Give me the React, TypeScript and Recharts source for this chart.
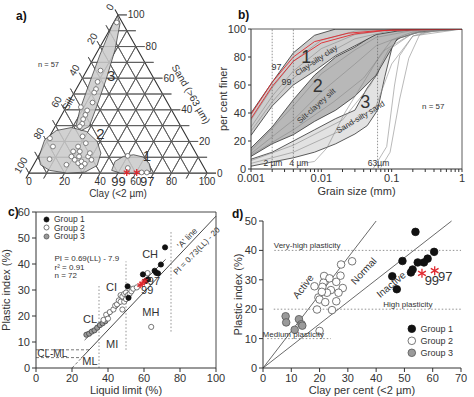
import React from 'react'
import {
  ScatterChart, Scatter, ComposedChart, Area, Line, XAxis, YAxis,
  ReferenceLine, ReferenceDot,
} from 'recharts'

const FONT = '"Liberation Sans", Arial, Helvetica, sans-serif'
const INK = '#333'
const RED = '#e0282e'

// ---------- a) ternary, points as [clay, sand] ----------
const ternGroup1 = [[50, 10.9], [53.9, 3.2], [63.1, 0.4], [66, 0.4]]
const ternStars = [[54.7, 0.4], [60.3, 0.4]]
const ternGroup2 = [
  [0.8, 22], [5.1, 16.8], [7.2, 8.8], [18.4, 5.3], [18.6, 10.5], [19.2, 16.8], [18.5, 23.2],
  [22.5, 18.9], [21.5, 8.4], [24.5, 6.3], [25.8, 7.4], [28.4, 5.9], [28, 10.5], [30.9, 8.4],
  [21.7, 13.7], [18, 13.7], [27.9, 12.6], [27.4, 4.2], [22.9, 10.5],
]
const ternGroup3 = [
  [1.7, 95.2], [7.8, 64.8], [9.7, 57.7], [11.1, 53.1], [11.2, 50.9], [13.4, 44.6],
  [8.3, 41.7], [12.9, 39.6], [13.3, 36.8], [13.4, 34.1], [14.3, 31.2], [13.8, 29.5],
]
const ternZone1 = [[45.6, 1.7], [44.6, 7.4], [47.7, 10.5], [52.9, 11.6], [59.2, 10.1], [64.7, 5.9], [67.9, 1.1], [62.6, 0], [51.3, 0]]
const ternZone2 = [[0.4, 10.5], [-1.7, 21.1], [1.9, 26.9], [9.5, 28.8], [19.2, 26.3], [28.3, 20], [34.1, 12.6], [35.9, 4.8], [31.1, 0.6], [21.3, 0], [10.8, 1.7], [3.8, 5.3]]
const ternZone3 = [[0, 99.4], [3.8, 94.7], [9.4, 77.9], [13.8, 58.9], [17, 42.1], [19.1, 29.5], [16, 26.9], [11.6, 29.5], [8.6, 40], [5.9, 54.7], [2.5, 74.7], [0, 93.7]]
const ternTicks = [0, 20, 40, 60, 80, 100]
const ternGridSteps = [0, 10, 20, 30, 40, 50, 60, 70, 80, 90, 100]

// ---------- b) grain size curves ----------
const env1X = [0.001, 0.002, 0.004, 0.008, 0.016, 0.03, 0.06, 0.12, 0.25, 1]
const env1Lo = [24, 45, 60, 70, 81, 88, 96, 98.5, 99.5, 100]
const env1Hi = [40, 62, 83, 95.5, 100, 100, 100, 100, 100, 100]
const env2X = [0.001, 0.002, 0.004, 0.008, 0.016, 0.03, 0.06, 0.12, 0.25, 1]
const env2Lo = [9, 18, 24.5, 34, 42, 52, 67, 93, 98, 100]
const env2Hi = [15, 30, 49.5, 67, 80, 87, 97, 99.5, 100, 100]
const env3X = [0.001, 0.002, 0.004, 0.008, 0.016, 0.03, 0.045, 0.063, 0.08, 0.105, 0.15, 0.25, 1]
const env3Lo = [2, 5, 8, 12, 18, 25, 31, 42, 66, 90, 96, 98.5, 100]
const env3Hi = [7, 12, 20, 28, 36, 42, 58, 68, 85, 95, 98, 99.5, 100]
const curvesGrey = [
  [[0.001, 35], [0.002, 58], [0.004, 77], [0.01, 92], [0.03, 98.5], [0.1, 100], [1, 100]],
  [[0.001, 30], [0.002, 52], [0.004, 70], [0.01, 86], [0.03, 96], [0.1, 99.5], [1, 100]],
  [[0.001, 27], [0.002, 48], [0.004, 65], [0.01, 80], [0.03, 93], [0.1, 99], [1, 100]],
  [[0.001, 13], [0.004, 45], [0.01, 68], [0.03, 85], [0.06, 94], [0.2, 99], [1, 100]],
  [[0.001, 11], [0.004, 35], [0.01, 55], [0.03, 75], [0.06, 88], [0.2, 98], [1, 100]],
  [[0.001, 10], [0.004, 28], [0.015, 48], [0.04, 65], [0.08, 85], [0.2, 97], [1, 100]],
  [[0.001, 6], [0.004, 17], [0.02, 35], [0.05, 60], [0.09, 85], [0.2, 97], [1, 100]],
  [[0.001, 4], [0.004, 12], [0.02, 28], [0.06, 45], [0.1, 75], [0.2, 95], [1, 100]],
  [[0.0055, 4], [0.008, 5.4], [0.012, 15], [0.0215, 40], [0.04, 62], [0.07, 82], [0.1, 92], [0.3, 99], [1, 100]],
  [[0.055, 0.5], [0.085, 16], [0.11, 60], [0.13, 81], [0.2, 95], [0.4, 99.5], [1, 100]],
  [[0.07, 1], [0.095, 12], [0.13, 50], [0.175, 79], [0.25, 96], [0.5, 100], [1, 100]],
]
const curvesRed = [
  [[0.001, 39], [0.002, 62], [0.004, 80], [0.008, 91], [0.024, 97], [0.064, 98.8], [1, 100]],
  [[0.001, 36], [0.002, 59], [0.004, 77], [0.01, 90], [0.03, 96.5], [0.1, 99.5], [1, 100]],
]
const grainTicks = [
  0.001, 0.002, 0.003, 0.004, 0.005, 0.006, 0.007, 0.008, 0.009,
  0.01, 0.02, 0.03, 0.04, 0.05, 0.06, 0.07, 0.08, 0.09,
  0.1, 0.2, 0.3, 0.4, 0.5, 0.6, 0.7, 0.8, 0.9, 1,
]
const grainMajor = [0.001, 0.01, 0.1, 1]
const grainMarks = [0.002, 0.004, 0.063]

// ---------- c) plasticity chart, [LL, PI] ----------
const cGroup1 = [[71.7, 46.4], [69.4, 39.8], [65.9, 37.4], [66.8, 36.6], [67.8, 36.4], [59.4, 36.0], [62.2, 34.1], [50.9, 31.4], [51.4, 27.0], [61, 33.5]]
const cGroup2 = [
  [37.5, 18.5], [39, 20.5], [40, 19], [41, 21.5], [43, 22.5], [44, 24], [45, 24.5], [46, 26],
  [47, 25.5], [47, 28], [48, 27.5], [48, 22.5], [49, 25.5], [49, 28.5], [50, 26.5], [50, 29],
  [51, 28], [52, 28.5], [53, 29.5], [54, 30.5], [56, 31], [62, 36.5], [64, 15.8],
]
const cGroup3 = [[28, 12.8], [29.5, 13.2], [31, 14], [32.5, 14.5], [34, 15.5], [35.5, 16.5], [37, 17.2], [38.5, 18]]
const cStars = [[57.9, 31.9], [59, 32.5], [60.5, 33.5]]
const regLL = [27, 72]
const aLineLL = [25.5, 100]
const cTicksX = [0, 20, 40, 60, 80, 100]
const cTicksY = [0, 10, 20, 30, 40, 50, 60]

// ---------- d) activity chart, [clay, PI] ----------
const dGroup1 = [[53.9, 46.3], [60.5, 39.5], [58.2, 37.2], [56.9, 35.9], [54.7, 35.9], [49.3, 36.4], [52.9, 33.5], [52.3, 32.5], [45.7, 31.2], [47.3, 26.8]]
const dGroup2 = [
  [18.2, 27.8], [21.6, 31.3], [23.5, 30.5], [27.6, 35.2], [31.5, 36.3], [21.4, 29.0], [21.0, 27.6],
  [25.9, 29.3], [27.4, 31.4], [28.2, 27.2], [26.7, 25.6], [24.0, 26.5], [22.6, 25.6], [19.6, 24.0],
  [19.1, 19.9], [20.0, 23.3], [22.0, 22.4], [25.9, 22.7], [24.4, 19.7], [20.0, 12.6], [20.8, 25.9],
]
const dGroup3 = [[8.0, 17.6], [8.2, 15.5], [12.7, 16.6], [13.6, 14.9], [13.9, 14.4], [11.2, 13.0]]
const dStars = [[56.2, 32.2], [60.7, 33.1]]
const activitySlopes = [1.25, 0.75]
const dTicksX = [0, 10, 20, 30, 40, 50, 60, 70]
const dTicksY = [0, 10, 20, 30, 40, 50]

const groups = [
  { name: 'Group 1', fill: '#111', stroke: '#111' },
  { name: 'Group 2', fill: '#fff', stroke: '#555' },
  { name: 'Group 3', fill: '#9a9a9a', stroke: '#555' },
]

const xy = (pts: number[][]) => pts.map(([x, y]) => ({ x, y }))
const tern = (pts: number[][]) => pts.map(([c, s]) => ({ x: c + s / 2, y: s }))
const closed = <T,>(pts: T[]) => [...pts, pts[0]]

// ternary grid: constant sand, constant clay, constant silt, each with a short tick outside the triangle
const ternGridSegs = ternGridSteps.flatMap(k => [
  { id: `s${k}`, edge: k === 0, pts: [{ x: k / 2, y: k }, { x: 100 - k / 2 + 5, y: k }] },
  { id: `c${k}`, edge: k === 0, pts: [{ x: k - 1.7, y: -3.4 }, { x: k + (100 - k) / 2, y: 100 - k }] },
  { id: `t${k}`, edge: k === 0, pts: [{ x: 100 - k, y: 0 }, { x: (100 - k) / 2 - 1.7, y: 100 - k + 3.4 }] },
])

const dotShape = (r: number, fill: string, stroke: string) => (p: any) =>
  <circle cx={p.cx} cy={p.cy} r={r} fill={fill} stroke={stroke} strokeWidth={0.8} />

const starShape = (r: number) => (p: any) => (
  <g stroke={RED} strokeWidth={1.3}>
    {[0, 60, 120].map(a => {
      const t = (a * Math.PI) / 180
      return <line key={a} x1={p.cx - r * Math.sin(t)} y1={p.cy - r * Math.cos(t)} x2={p.cx + r * Math.sin(t)} y2={p.cy + r * Math.cos(t)} />
    })}
  </g>
)

const noShape = () => <g />

type TOpt = { size?: number; angle?: number; anchor?: 'start' | 'middle' | 'end'; color?: string; weight?: number }
function txt(key: string, x: number, y: number, value: string, o: TOpt = {}) {
  const size = o.size ?? 10
  return (
    <ReferenceDot
      key={key} x={x} y={y} r={0} fill="none" stroke="none" ifOverflow="visible"
      label={(p: any) => {
        const vb = p.viewBox || {}
        const cx = (vb.x ?? 0) + (vb.width ?? 0) / 2
        const cy = (vb.y ?? 0) + (vb.height ?? 0) / 2
        return (
          <text
            x={cx} y={cy} fontSize={size} fontFamily={FONT} fill={o.color ?? INK}
            fontWeight={o.weight ?? 400} textAnchor={o.anchor ?? 'middle'} dominantBaseline="central"
            transform={o.angle ? `rotate(${o.angle} ${cx} ${cy})` : undefined}
          >
            {value}
          </text>
        )
      }}
    />
  )
}

function seg(key: string, x1: number, y1: number, x2: number, y2: number, stroke = INK, width = 0.8, dash?: string) {
  return (
    <ReferenceLine
      key={key} segment={[{ x: x1, y: y1 }, { x: x2, y: y2 }]} stroke={stroke}
      strokeWidth={width} strokeDasharray={dash} ifOverflow="visible"
    />
  )
}

function LegendBox({ left, top, r, size, row }: { left: number; top: number; r: number; size: number; row: number }) {
  return (
    <div style={{ position: 'absolute', left, top, fontFamily: FONT, fontSize: size, color: INK }}>
      {groups.map(g => (
        <div key={g.name} style={{ display: 'flex', alignItems: 'center', height: row, gap: 4 }}>
          <svg width={r * 2 + 2} height={r * 2 + 2} style={{ display: 'block' }}>
            <circle cx={r + 1} cy={r + 1} r={r} fill={g.fill} stroke={g.stroke} strokeWidth={0.8} />
          </svg>
          <span>{g.name}</span>
        </div>
      ))}
    </div>
  )
}

function TernaryPanel() {
  return (
    <ScatterChart width={237} height={200} margin={{ top: 7, right: 21, bottom: 18, left: 19 }}>
      <XAxis type="number" dataKey="x" domain={[-5, 105]} height={1} tick={false} axisLine={false} tickLine={false} />
      <YAxis type="number" dataKey="y" domain={[-5, 105]} width={1} tick={false} axisLine={false} tickLine={false} />
      {ternGridSegs.map(g => (
        <Scatter
          key={g.id} data={[g.pts[0], g.pts[1], g.pts[0]]} shape={noShape} isAnimationActive={false} legendType="none"
          line={{ stroke: g.edge ? '#333' : '#5a5a5a', strokeWidth: g.edge ? 1.1 : 0.9, fill: '#ffffff', fillOpacity: 0 }}
        />
      ))}
      {[ternZone1, ternZone2, ternZone3].map((z, i) => (
        <Scatter key={`z${i}`} data={closed(tern(z))} line={{ stroke: '#444', strokeWidth: 0.8, fill: '#c9c9c9', fillOpacity: 0.85 }} shape={noShape} isAnimationActive={false} legendType="none" />
      ))}
      <Scatter data={tern(ternGroup3)} shape={dotShape(2.4, '#fff', '#666')} isAnimationActive={false} />
      <Scatter data={tern(ternGroup2)} shape={dotShape(2.4, '#fff', '#666')} isAnimationActive={false} />
      <Scatter data={tern(ternGroup1)} shape={dotShape(2.4, '#fff', '#666')} isAnimationActive={false} />
      <Scatter data={tern(ternStars)} shape={starShape(3.5)} isAnimationActive={false} />
      {ternTicks.map(v => txt(`bt${v}`, v, -5.5, String(v), { size: 10 }))}
      {ternTicks.map(v => txt(`rt${v}`, 100 - v / 2 + 5.5, v, String(v), { size: 10, anchor: 'start' }))}
      {ternTicks.map(v => txt(`lt${v}`, (100 - v) / 2 - 4.5, 100 - v + 5, String(v), { size: 10, angle: -60 }))}
      {txt('silt', 22, 44, 'Silt', { size: 10, angle: -60 })}
      {txt('sand', 91, 50, 'Sand (>63 µm)', { size: 10, angle: 60 })}
      {txt('clay', 50, -12.8, 'Clay (<2 µm)', { size: 10 })}
      {txt('n', 11, 68.4, 'n = 57', { size: 7.5 })}
      {txt('z1', 66.2, 10.9, '1', { size: 15 })}
      {txt('z2', 40.2, 24.8, '2', { size: 15 })}
      {txt('z3', 46.1, 61.5, '3', { size: 15 })}
      {txt('99', 50.3, -5.5, '99', { size: 13 })}
      {txt('97', 66.4, -5.5, '97', { size: 13 })}
    </ScatterChart>
  )
}

function GrainPanel() {
  const env = (x: number[], lo: number[], hi: number[]) => x.map((v, i) => ({ x: v, lo: lo[i], hi: hi[i] }))
  return (
    <ComposedChart width={259} height={205} margin={{ top: 29, right: 12, bottom: 6, left: 6 }}>
      <XAxis
        type="number" dataKey="x" scale="log" domain={[0.001, 1]} allowDataOverflow ticks={grainTicks}
        tickFormatter={(v: number) => (grainMajor.includes(v) ? String(v) : '')} interval={0}
        tick={{ fontSize: 11, fill: INK, fontFamily: FONT }} tickSize={3} stroke={INK} height={30}
        label={{ value: 'Grain size (mm)', position: 'insideBottom', offset: 4, fontSize: 11, fill: INK, fontFamily: FONT }}
      />
      <YAxis
        type="number" domain={[0, 100]} ticks={[0, 20, 40, 60, 80, 100]} allowDataOverflow width={30}
        tick={{ fontSize: 11, fill: INK, fontFamily: FONT }} tickSize={3} stroke={INK}
        label={{ value: 'per cent finer', angle: -90, position: 'insideLeft', offset: 2, fontSize: 11, fill: INK, fontFamily: FONT, style: { textAnchor: 'middle' } }}
      />
      <Area data={env(env3X, env3Lo, env3Hi)} dataKey={(d: any) => [d.lo, d.hi]} type="linear" fill="#e2e2e2" fillOpacity={1} stroke="#333" strokeWidth={0.8} isAnimationActive={false} dot={false} activeDot={false} />
      <Area data={env(env2X, env2Lo, env2Hi)} dataKey={(d: any) => [d.lo, d.hi]} type="linear" fill="#b8b8b8" fillOpacity={1} stroke="#333" strokeWidth={0.8} isAnimationActive={false} dot={false} activeDot={false} />
      <Area data={env(env1X, env1Lo, env1Hi)} dataKey={(d: any) => [d.lo, d.hi]} type="linear" fill="#cdcdcd" fillOpacity={1} stroke="#333" strokeWidth={0.8} isAnimationActive={false} dot={false} activeDot={false} />
      {curvesGrey.map((c, i) => (
        <Line key={`g${i}`} data={xy(c)} dataKey="y" type="linear" stroke="#8a8a8a" strokeWidth={0.6} dot={false} activeDot={false} isAnimationActive={false} />
      ))}
      {curvesRed.map((c, i) => (
        <Line key={`r${i}`} data={xy(c)} dataKey="y" type="linear" stroke={RED} strokeWidth={0.9} dot={false} activeDot={false} isAnimationActive={false} />
      ))}
      {grainMarks.map(m => seg(`m${m}`, m, 2, m, m === 0.063 ? 96 : 100, '#666', 0.7, '1.5 1.5'))}
      {seg('top', 0.001, 100, 1, 100, INK, 0.8)}
      {seg('right', 1, 0, 1, 100, INK, 0.8)}
      {txt('2um', 0.00205, 4.3, '2 µm', { size: 8.5 })}
      {txt('4um', 0.0048, 4.3, '4 µm', { size: 8.5 })}
      {txt('63um', 0.065, 4.3, '63µm', { size: 8.5 })}
      {txt('b1', 0.0061, 80, '1', { size: 18 })}
      {txt('b2', 0.0089, 59, '2', { size: 18 })}
      {txt('b3', 0.042, 48, '3', { size: 18 })}
      {txt('l1', 0.0085, 77.5, 'Clay-silty clay', { size: 8, angle: -34 })}
      {txt('l2', 0.0085, 45, 'Silt-clayey silt', { size: 8, angle: -42 })}
      {txt('l3', 0.0363, 37, 'Sand-silty sand', { size: 8, angle: -31 })}
      {txt('97', 0.0023, 73, '97', { size: 9 })}
      {txt('99', 0.0032, 62.5, '99', { size: 9 })}
      {txt('n', 0.39, 45, 'n = 57', { size: 8 })}
    </ComposedChart>
  )
}

function PlasticityPanel() {
  return (
    <ScatterChart width={237} height={205} margin={{ top: 15, right: 21, bottom: 4, left: 6 }}>
      <XAxis
        type="number" dataKey="x" domain={[0, 100]} ticks={cTicksX} allowDataOverflow height={30}
        tick={{ fontSize: 11, fill: INK, fontFamily: FONT }} tickSize={4} stroke={INK}
        label={{ value: 'Liquid limit (%)', position: 'insideBottom', offset: 4, fontSize: 11, fill: INK, fontFamily: FONT }}
      />
      <YAxis
        type="number" dataKey="y" domain={[0, 60]} ticks={cTicksY} allowDataOverflow width={30}
        tick={{ fontSize: 11, fill: INK, fontFamily: FONT }} tickSize={4} stroke={INK}
        label={{ value: 'Plastic index (%)', angle: -90, position: 'insideLeft', offset: 0, fontSize: 11, fill: INK, fontFamily: FONT, style: { textAnchor: 'middle' } }}
      />
      {seg('top', 0, 60, 100, 60, INK, 0.9)}
      {seg('right', 100, 0, 100, 60, INK, 0.9)}
      {seg('v35', 35, 0, 35, 32, '#777', 0.8, '1.5 2')}
      {seg('v50', 50, 7, 50, 41, '#777', 0.8, '1.5 2')}
      {seg('v75', 75, 14, 75, 53, '#777', 0.8, '1.5 2')}
      {seg('h7', 0, 7, (7 / 0.73) + 20, 7, '#555', 0.8, '3 2')}
      {seg('h4', 0, 4, (4 / 0.73) + 20, 4, '#555', 0.8, '3 2')}
      {seg('aDash', 20, 0, aLineLL[0], 0.73 * (aLineLL[0] - 20), '#555', 0.8, '3 2')}
      {seg('aLine', aLineLL[0], 0.73 * (aLineLL[0] - 20), aLineLL[1], 0.73 * (aLineLL[1] - 20), INK, 0.9)}
      {seg('reg', regLL[0], 0.69 * regLL[0] - 7.9, regLL[1], 0.69 * regLL[1] - 7.9, INK, 0.8)}
      <Scatter name="Group 3" data={xy(cGroup3)} shape={dotShape(2.6, '#9a9a9a', '#444')} isAnimationActive={false} />
      <Scatter name="Group 2" data={xy(cGroup2)} shape={dotShape(2.6, '#fff', '#555')} isAnimationActive={false} />
      <Scatter name="Group 1" data={xy(cGroup1)} shape={dotShape(2.6, '#111', '#111')} isAnimationActive={false} />
      <Scatter data={xy(cStars)} shape={starShape(3.2)} isAnimationActive={false} />
      {txt('eq1', 10.3, 42, 'PI = 0.69(LL) - 7.9', { size: 8, anchor: 'start' })}
      {txt('eq2', 10.3, 38.8, 'r² = 0.91', { size: 8, anchor: 'start' })}
      {txt('eq3', 10.3, 35.6, 'n  = 72', { size: 8, anchor: 'start' })}
      {txt('CH', 63.4, 43.9, 'CH', { size: 11 })}
      {txt('CI', 42, 31, 'CI', { size: 11 })}
      {txt('CL', 30, 18.9, 'CL', { size: 11 })}
      {txt('MH', 63.8, 21.5, 'MH', { size: 11 })}
      {txt('MI', 42.3, 9.3, 'MI', { size: 11 })}
      {txt('ML', 30, 2.8, 'ML', { size: 11 })}
      {txt('CLML', 9, 5.6, 'CL-ML', { size: 10 })}
      {txt('97', 65.5, 33.5, '97', { size: 11 })}
      {txt('99', 61.8, 30, '99', { size: 11 })}
      {txt('al', 84, 50, "'A' line", { size: 8.5, angle: -46 })}
      {txt('af', 89.3, 45, 'PI = 0.73(LL) - 20', { size: 8, angle: -46 })}
    </ScatterChart>
  )
}

function ActivityPanel() {
  return (
    <ScatterChart width={242} height={205} margin={{ top: 24, right: 13, bottom: 4, left: 6 }}>
      <XAxis
        type="number" dataKey="x" domain={[0, 70]} ticks={dTicksX} allowDataOverflow height={30}
        tick={{ fontSize: 11, fill: INK, fontFamily: FONT }} tickSize={4} stroke={INK}
        label={{ value: 'Clay per cent (<2 µm)', position: 'insideBottom', offset: 4, fontSize: 11, fill: INK, fontFamily: FONT }}
      />
      <YAxis
        type="number" dataKey="y" domain={[0, 50]} ticks={dTicksY} allowDataOverflow width={25}
        tick={{ fontSize: 11, fill: INK, fontFamily: FONT }} tickSize={4} stroke={INK}
        label={{ value: 'Plastic index (%)', angle: -90, position: 'insideLeft', offset: 0, fontSize: 11, fill: INK, fontFamily: FONT, style: { textAnchor: 'middle' } }}
      />
      {seg('vh', 4, 40, 70, 40, '#777', 0.8, '1.5 2')}
      {seg('hp', 3.8, 20, 70, 20, '#777', 0.8, '1.5 2')}
      {seg('mp', 1.5, 10, 24, 10, '#777', 0.8, '1.5 2')}
      {activitySlopes.map(s => seg(`a${s}`, 0, 0, 50 / s, 50, '#444', 0.8))}
      <Scatter name="Group 3" data={xy(dGroup3)} shape={dotShape(3.8, '#9a9a9a', '#555')} isAnimationActive={false} />
      <Scatter name="Group 2" data={xy(dGroup2)} shape={dotShape(3.8, '#fff', '#555')} isAnimationActive={false} />
      <Scatter name="Group 1" data={xy(dGroup1)} shape={dotShape(3.8, '#111', '#111')} isAnimationActive={false} />
      <Scatter data={xy(dStars)} shape={starShape(4.5)} isAnimationActive={false} />
      {txt('vhl', 15.6, 41.8, 'Very-high plasticity', { size: 8 })}
      {txt('hpl', 51.2, 21.6, 'High plasticity', { size: 8 })}
      {txt('mpl', 10.7, 11.3, 'Medium plasticity', { size: 8 })}
      {txt('act', 14.2, 27.7, 'Active', { size: 10, angle: -52 })}
      {txt('nor', 35.6, 33, 'Normal', { size: 10, angle: -47 })}
      {txt('ina', 45.3, 28.4, 'Inactive', { size: 10, angle: -40 })}
      {txt('99', 59.7, 29.7, '99', { size: 13 })}
      {txt('97', 64.4, 31, '97', { size: 13 })}
    </ScatterChart>
  )
}

const tag = (label: string, left: number, top: number) => (
  <div style={{ position: 'absolute', left, top, fontFamily: FONT, fontWeight: 700, fontSize: 12, color: '#111' }}>{label}</div>
)

export default function App() {
  return (
    <div style={{ position: 'absolute', left: 0, top: 0, width: 474, height: 397, background: '#fff', overflow: 'hidden' }}>
      <div style={{ position: 'absolute', left: 0, top: 0 }}><TernaryPanel /></div>
      <div style={{ position: 'absolute', left: 215, top: 0 }}><GrainPanel /></div>
      <div style={{ position: 'absolute', left: 0, top: 197 }}><PlasticityPanel /></div>
      <div style={{ position: 'absolute', left: 232, top: 197 }}><ActivityPanel /></div>
      <LegendBox left={43} top={215} r={2.5} size={8.5} row={8.5} />
      <LegendBox left={407} top={323} r={3.8} size={9} row={12} />
      {tag('a)', 16, 9)}
      {tag('b)', 238, 8)}
      {tag('c)', 8, 205)}
      {tag('d)', 232, 207)}
    </div>
  )
}
